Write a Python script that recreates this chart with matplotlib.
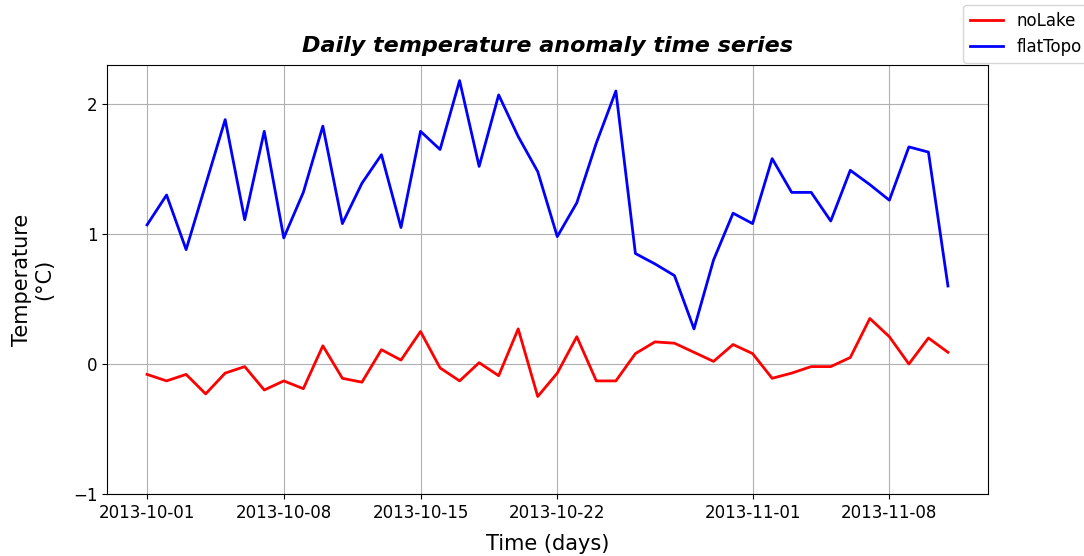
import matplotlib
matplotlib.use("Agg")
import matplotlib.pyplot as plt
import numpy as np
import pandas as pd

dates = pd.date_range("2013-10-01", "2013-11-11", freq="D")

noLake = [-0.08, -0.13, -0.08, -0.23, -0.07, -0.02, -0.20, -0.13, -0.19, 0.14,
          -0.11, -0.14, 0.11, 0.03, 0.25, -0.03, -0.13, 0.01, -0.09, 0.27,
          -0.25, -0.07, 0.21, -0.13, -0.13, 0.08, 0.17, 0.16, 0.09, 0.02,
          0.15, 0.08, -0.11, -0.07, -0.02, -0.02, 0.05, 0.35, 0.21, 0.00,
          0.20, 0.09]

flatTopo = [1.07, 1.30, 0.88, 1.38, 1.88, 1.11, 1.79, 0.97, 1.32, 1.83,
            1.08, 1.39, 1.61, 1.05, 1.79, 1.65, 2.18, 1.52, 2.07, 1.75,
            1.48, 0.98, 1.24, 1.70, 2.10, 0.85, 0.77, 0.68, 0.27, 0.80,
            1.16, 1.08, 1.58, 1.32, 1.32, 1.10, 1.49, 1.38, 1.26, 1.67,
            1.63, 0.60]

fig = plt.figure(figsize=(10.84, 5.56), dpi=100)
ax = fig.add_axes([107/1084, 1 - 494/556, (988 - 107)/1084, (494 - 65)/556])

ax.plot(dates, noLake, color="red", lw=2, label="noLake")
ax.plot(dates, flatTopo, color="blue", lw=2, label="flatTopo")

ax.set_ylim(-1, 2.3)
ax.set_yticks([-1, 0, 1, 2])
ax.grid(True)
ax.tick_params(labelsize=12)
ax.set_xlabel("Time (days)", fontsize=15, labelpad=9)
ax.set_ylabel("Temperature\n(°C)", fontsize=15, labelpad=13)
ax.set_title("Daily temperature anomaly time series", fontsize=16,
             fontweight="bold", fontstyle="italic", pad=9)

fig.legend(loc="upper right", bbox_to_anchor=(1.012, 1.006), fontsize=12)

fig.savefig("out.png", dpi=100)
